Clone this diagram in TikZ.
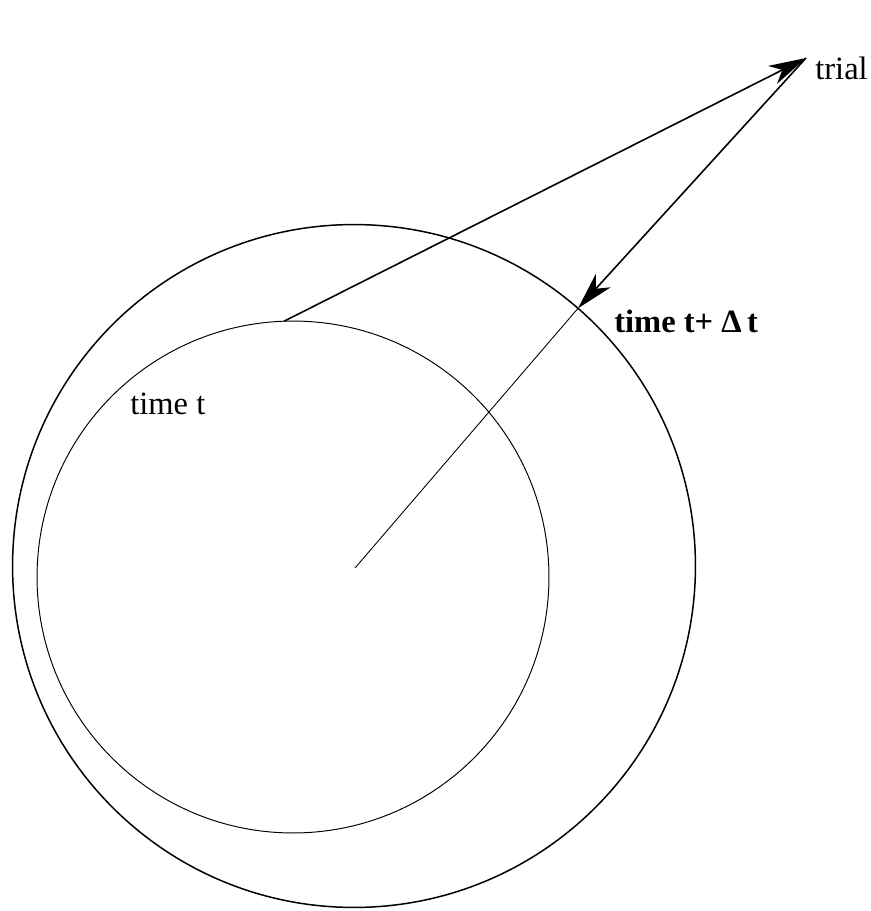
\documentclass[tikz,border=0pt]{standalone}
\usepackage{fontspec}
\setmainfont{Liberation Serif}
\usetikzlibrary{arrows.meta}

\begin{document}
\begin{tikzpicture}[
    x=0.02cm, y=-0.02cm,
    every node/.style={font=\fontsize{18.5}{21}\selectfont},
    ring/.style={draw, circle, inner sep=0pt, outer sep=0pt},
    lbl/.style={inner sep=0pt, anchor=base west},
    ar/.style={-{Stealth[length=0.75cm, width=0.4cm, inset=0.22cm]}, line width=0.9pt},
    radial/.style={line width=0.5pt}
]
\useasboundingbox (0,0) rectangle (870,911);
% ----- circles: outer at time t+dt, inner at time t -----
\node[ring, line width=0.85pt, minimum size=13.66cm] (outer) at (354,566) {};
\node[ring, line width=0.55pt, minimum size=10.24cm] (inner) at (293,577) {};
\coordinate (trial) at (806,58);
\coordinate (centre) at (355,568);
% ----- labels -----
\node[lbl] (triallbl) at (815,80) {trial};
\node[lbl] (tlbl) at (130,414) {time t};
\node[lbl, font=\fontsize{18.5}{21}\selectfont\bfseries] (tdtlbl) at (614,333) {time t+ Δ\,t};
% ----- arrows -----
\draw[ar] (inner.92) -- (trial);
\draw[ar] (trial) -- (outer.49);
\draw[radial] (centre) -- (outer.49);
\end{tikzpicture}
\end{document}
